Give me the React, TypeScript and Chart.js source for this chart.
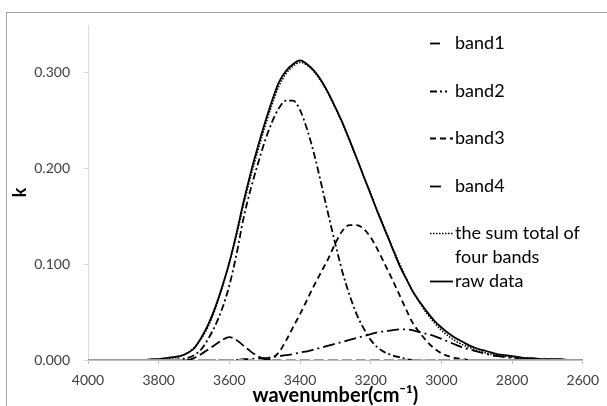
import React, { useEffect, useRef } from "react";
import { Chart, registerables } from "chart.js";

Chart.register(...registerables);

const wavenumbers = [
  4000, 3980, 3960, 3940, 3920, 3900, 3880, 3860, 3840, 3820,
  3800, 3780, 3760, 3740, 3720, 3700, 3680, 3660, 3640, 3620,
  3600, 3580, 3560, 3540, 3520, 3500, 3480, 3460, 3440, 3420,
  3400, 3380, 3360, 3340, 3320, 3300, 3280, 3260, 3240, 3220,
  3200, 3180, 3160, 3140, 3120, 3100, 3080, 3060, 3040, 3020,
  3000, 2980, 2960, 2940, 2920, 2900, 2880, 2860, 2840, 2820,
  2800, 2780, 2760, 2740, 2720, 2700, 2680, 2660, 2640, 2620,
  2600,
];

const band1 = [
  0, 0, 0, 0, 0, 0, 0, 0, 0, 0,
  0, 0, 0, 0, 0, 0.002, 0.006, 0.011, 0.016, 0.021,
  0.024, 0.021, 0.015, 0.009, 0.004, 0.001, 0, 0, 0, 0,
  0, 0, 0, 0, 0, 0, 0, 0, 0, 0,
  0, 0, 0, 0, 0, 0, 0, 0, 0, 0,
  0, 0, 0, 0, 0, 0, 0, 0, 0, 0,
  0, 0, 0, 0, 0, 0, 0, 0, 0, 0,
  0,
];

const band2 = [
  0, 0, 0, 0, 0, 0, 0, 0, 0, 0,
  0, 0, 0, 0.001, 0.002, 0.005, 0.011, 0.022, 0.036, 0.054,
  0.078, 0.110, 0.148, 0.178, 0.204, 0.228, 0.248, 0.263, 0.271, 0.271,
  0.261, 0.241, 0.215, 0.184, 0.152, 0.121, 0.092, 0.068, 0.048, 0.033,
  0.021, 0.013, 0.008, 0.005, 0.003, 0.001, 0, 0, 0, 0,
  0, 0, 0, 0, 0, 0, 0, 0, 0, 0,
  0, 0, 0, 0, 0, 0, 0, 0, 0, 0,
  0,
];

const band3 = [
  0, 0, 0, 0, 0, 0, 0, 0, 0, 0,
  0, 0, 0, 0, 0, 0, 0, 0, 0, 0,
  0, 0, 0, 0, 0, 0, 0.002, 0.008, 0.020, 0.034,
  0.048, 0.063, 0.078, 0.092, 0.106, 0.122, 0.135, 0.141, 0.141, 0.137,
  0.128, 0.115, 0.100, 0.085, 0.069, 0.053, 0.038, 0.028, 0.019, 0.012,
  0.007, 0.004, 0.002, 0.001, 0, 0, 0, 0, 0, 0,
  0, 0, 0, 0, 0, 0, 0, 0, 0, 0,
  0,
];

const band4 = [
  0, 0, 0, 0, 0, 0, 0, 0, 0, 0,
  0, 0, 0, 0, 0, 0, 0, 0, 0, 0,
  0, 0, 0.001, 0.001, 0.002, 0.002, 0.003, 0.004, 0.005, 0.006,
  0.008, 0.009, 0.011, 0.013, 0.015, 0.017, 0.019, 0.021, 0.023, 0.025,
  0.027, 0.029, 0.030, 0.031, 0.032, 0.032, 0.031, 0.029, 0.027, 0.025,
  0.022, 0.019, 0.016, 0.013, 0.011, 0.009, 0.007, 0.005, 0.004, 0.003,
  0.002, 0.001, 0, 0, 0, 0, 0, 0, 0, 0,
  0,
];

const sumTotal = [
  0, 0, 0, 0, 0, 0, 0, 0, 0, 0,
  0.001, 0.001, 0.002, 0.004, 0.007, 0.013, 0.022, 0.035, 0.053, 0.076,
  0.101, 0.130, 0.162, 0.191, 0.218, 0.243, 0.266, 0.286, 0.299, 0.307,
  0.311, 0.308, 0.301, 0.291, 0.278, 0.263, 0.247, 0.229, 0.211, 0.192,
  0.174, 0.155, 0.137, 0.119, 0.102, 0.086, 0.071, 0.059, 0.048, 0.039,
  0.031, 0.025, 0.020, 0.016, 0.013, 0.010, 0.008, 0.006, 0.005, 0.004,
  0.003, 0.002, 0.002, 0.001, 0.001, 0.001, 0.001, 0, 0, 0,
  0,
];

const rawData = [
  0, 0, 0, 0, 0, 0, 0, 0, 0, 0.001,
  0.001, 0.002, 0.003, 0.004, 0.007, 0.012, 0.023, 0.037, 0.055, 0.077,
  0.102, 0.132, 0.165, 0.195, 0.222, 0.247, 0.270, 0.290, 0.302, 0.309,
  0.313, 0.309, 0.302, 0.292, 0.279, 0.264, 0.248, 0.230, 0.211, 0.192,
  0.173, 0.154, 0.136, 0.118, 0.100, 0.085, 0.071, 0.060, 0.050, 0.041,
  0.034, 0.028, 0.023, 0.019, 0.015, 0.012, 0.010, 0.008, 0.006, 0.005,
  0.004, 0.003, 0.002, 0.002, 0.001, 0.001, 0.001, 0.001, 0, 0,
  0,
];

const xTicks = [4000, 3800, 3600, 3400, 3200, 3000, 2800, 2600];
const yTicks = [0, 0.1, 0.2, 0.3];
const seriesNames = ["band1", "band2", "band3", "band4", "the sum total of four bands", "raw data"];

const FONT = "Lato, 'Open Sans', sans-serif";

const styles = [
  { dash: [10, 4], width: 1.8 },
  { dash: [7, 3, 2, 3], width: 1.8 },
  { dash: [6, 4], width: 1.8 },
  { dash: [12, 4, 2, 4], width: 1.8 },
  { dash: [1.5, 1.5], width: 1.6 },
  { dash: [], width: 1.8 },
];

const legendPlugin = {
  id: "customLegend",
  afterDraw(chart: any) {
    const ctx = chart.ctx;
    ctx.save();
    ctx.strokeStyle = "#a6a6a6";
    ctx.lineWidth = 1;
    ctx.setLineDash([]);
    ctx.strokeRect(6.5, 12.5, 700, 500);

    const items = [
      { y: 43, x0: 430, x1: 441, lines: ["band1"] },
      { y: 91, x0: 430, x1: 447, lines: ["band2"] },
      { y: 138, x0: 430, x1: 453, lines: ["band3"] },
      { y: 186, x0: 430, x1: 441, lines: ["band4"] },
      { y: 233, x0: 430, x1: 453, lines: ["the sum total of", "four bands"] },
      { y: 281, x0: 430, x1: 453, lines: ["raw data"] },
    ];
    ctx.font = `18px ${FONT}`;
    ctx.fillStyle = "#000";
    ctx.textBaseline = "middle";
    ctx.textAlign = "left";
    items.forEach((it, i) => {
      const st = styles[i];
      ctx.strokeStyle = "#000";
      ctx.lineWidth = st.width;
      ctx.setLineDash(st.dash);
      ctx.beginPath();
      ctx.moveTo(it.x0, it.y + 0.5);
      ctx.lineTo(it.x1, it.y + 0.5);
      ctx.stroke();
      it.lines.forEach((t, j) => ctx.fillText(t, 455, it.y + j * 24));
    });
    ctx.restore();
  },
};

export default function App() {
  const ref = useRef<HTMLCanvasElement>(null);
  useEffect(() => {
    if (!ref.current) return;
    const series = [band1, band2, band3, band4, sumTotal, rawData];
    const datasets = series.map((arr, i) => ({
      label: seriesNames[i],
      data: wavenumbers.map((w, j) => ({ x: w, y: arr[j] })),
      borderColor: "#000",
      borderWidth: styles[i].width,
      borderDash: styles[i].dash,
      pointRadius: 0,
      fill: false,
      cubicInterpolationMode: "monotone" as const,
      segment: i < 4
        ? {
            borderColor: (c: any) =>
              c.p0.parsed.y === 0 && c.p1.parsed.y === 0 ? "#9a9a9a" : "#000",
          }
        : undefined,
    }));
    const chart = new Chart(ref.current, {
      type: "line",
      data: { datasets },
      plugins: [legendPlugin],
      options: {
        animation: false,
        responsive: false,
        devicePixelRatio: 1,
        layout: { padding: { left: 0, right: 19, top: 25, bottom: 0 } },
        plugins: { legend: { display: false }, tooltip: { enabled: false } },
        scales: {
          x: {
            type: "linear",
            reverse: true,
            min: 2600,
            max: 4000,
            afterBuildTicks: (s: any) => {
              s.ticks = xTicks.map((v) => ({ value: v }));
            },
            afterFit: (s: any) => {
              s.height = 46;
            },
            border: { display: true, color: "#bfbfbf", width: 1 },
            grid: { display: true, drawOnChartArea: false, drawTicks: true, tickLength: 4, color: "#bfbfbf" },
            ticks: {
              font: { family: FONT, size: 14 },
              color: "#404040",
              padding: 8,
              maxRotation: 0,
              autoSkip: false,
              callback: (v: any) => String(v),
            },
            title: {
              display: true,
              text: "wavenumber(cm⁻¹)",
              font: { family: FONT, size: 20, weight: "bold" },
              color: "#000",
              padding: { top: 0, bottom: -2 },
            },
          },
          y: {
            type: "linear",
            min: 0,
            max: 0.35,
            afterBuildTicks: (s: any) => {
              s.ticks = yTicks.map((v) => ({ value: v }));
            },
            afterFit: (s: any) => {
              s.width = 88;
            },
            border: { display: true, color: "#d9d9d9", width: 1 },
            grid: { display: true, drawOnChartArea: false, drawTicks: true, tickLength: 4, color: "#d9d9d9" },
            ticks: {
              font: { family: FONT, size: 14 },
              color: "#404040",
              padding: 14,
              callback: (v: any) => Number(v).toFixed(3),
            },
            title: {
              display: true,
              text: "k",
              font: { family: FONT, size: 18, weight: "bold" },
              color: "#000",
              padding: { top: 9, bottom: 0 },
            },
          },
        },
      },
    });
    return () => chart.destroy();
  }, []);
  return (
    <div style={{ position: "absolute", left: 0, top: 0, width: 607, height: 406, background: "#fff" }}>
      <canvas ref={ref} width={607} height={406} />
    </div>
  );
}
